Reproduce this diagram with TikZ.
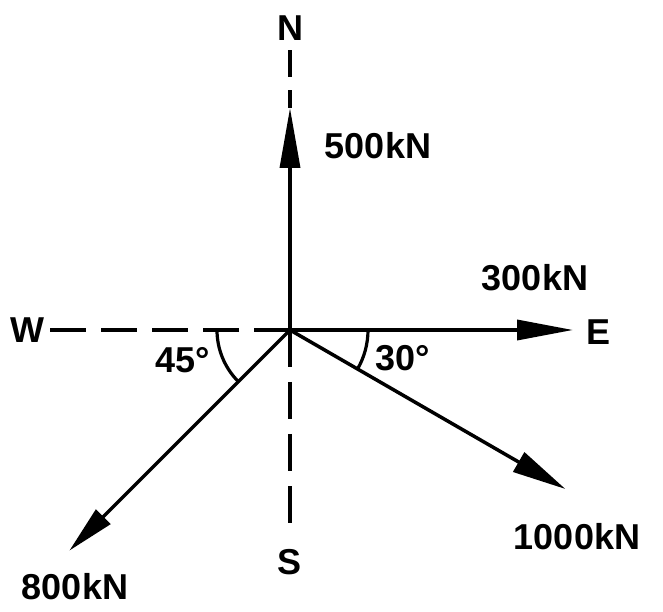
\documentclass[tikz,border=0pt]{standalone}
\usepackage{fontspec}
\setmainfont{Liberation Sans}
\usetikzlibrary{arrows.meta}

\begin{document}
\begin{tikzpicture}[
x=1pt, y=1pt,
force/.style={line width=3.5pt, -{Triangle[length=56pt, width=20pt]}},
axis/.style={line width=3.5pt, dash pattern=on 36pt off 15pt},
lbl/.style={font=\fontsize{36}{40}\selectfont\bfseries, inner sep=0pt}
]
\useasboundingbox (-290,-282) rectangle (373,330);

% centre and end points
\coordinate (O) at (0,0);
\coordinate (tipN) at (0,222);
\coordinate (topN) at (0,240);
\coordinate (dashA) at (0,253);
\coordinate (dashB) at (0,280);
\coordinate (endW) at (-240,0);
\coordinate (endS) at (0,-200);
\coordinate (tipE) at (283,0);
\coordinate (tipSE) at (-30:318);
\coordinate (tipSW) at (225:312);

% compass labels
\node[lbl] (north) at (0,302) {N};
\node[lbl] (south) at (0,-232) {S};
\node[lbl] (west) at (-263,0) {W};
\node[lbl] (east) at (308,-2) {E};

% reference lines
\draw[axis] (O) -- (endW);
\draw[axis, dash pattern=on 37pt off 15pt] (O) -- (endS);
\draw[line width=3.5pt] (tipN) -- (topN);
\draw[line width=3.5pt] (dashA) -- (dashB);

% forces
\draw[force, -{Triangle[length=60pt, width=20pt]}] (O) -- (tipN);
\draw[force] (O) -- (tipE);
\draw[force, -{Triangle[length=54pt, width=22pt]}] (O) -- (tipSE);
\draw[force, -{Triangle[length=48pt, width=20pt]}] (O) -- (tipSW);

\node[lbl] (f500) at (88,184) {500kN};
\node[lbl] (f300) at (245,52) {300kN};
\node[lbl] (f1000) at (287,-207) {1000kN};
\node[lbl] (f800) at (-215,-257) {800kN};

% angles
\draw[line width=3.2pt] (-73,0) arc[start angle=180, end angle=225, radius=73];
\draw[line width=3.2pt] (78,0) arc[start angle=0, end angle=-30, radius=78];
\node[lbl] (a45) at (-107,-30) {45°};
\node[lbl] (a30) at (113,-28) {30°};
\end{tikzpicture}
\end{document}
